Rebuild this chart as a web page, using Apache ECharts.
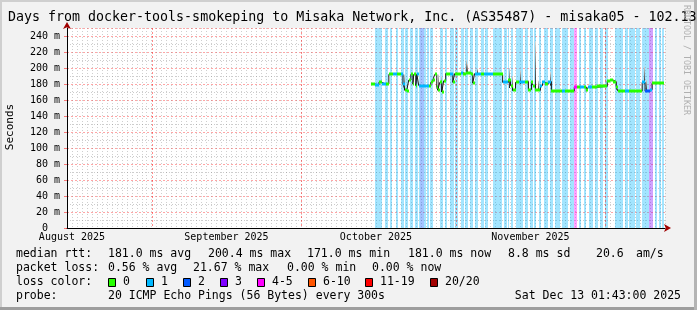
<!DOCTYPE html>
<html><head><meta charset="utf-8">
<script src="https://cdn.jsdelivr.net/npm/echarts@6/dist/echarts.min.js"></script>
<style>html,body{margin:0;padding:0;background:#f2f2f2}#c{width:697px;height:310px}</style>
</head><body><div id="c"></div>
<script>
// ---------------- data (times are 'MM-DD HH' in 2025, UTC) ----------------
const titleText = 'Days from docker-tools-smokeping to Misaka Network, Inc. (AS35487) - misaka05 - 102.13';
const rangeStart = '08-15 00';
const rangeEnd = '12-13 00';
const monthLabels = ['August 2025', 'September 2025', 'October 2025', 'November 2025'];
const monthLabelAt = ['08-16 00', '09-16 00', '10-16 00', '11-16 00'];
const monthStarts = ['09-01 00', '10-01 00', '11-01 00', '12-01 00'];

// median rtt (ms) per segment, segment runs until the next start
const medianTime = ['10-15 00','10-15 19','10-16 14','10-17 05','10-18 00','10-18 14','10-19 10','10-20 05','10-21 00','10-21 10',
  '10-21 19','10-22 05','10-22 14','10-23 00','10-23 10','10-23 14','10-24 00','10-24 05','10-24 14','10-26 14',
  '10-27 00','10-27 10','10-27 19','10-28 05','10-28 10','10-28 19','10-29 05','10-29 14','10-30 00','10-30 19',
  '10-31 10','10-31 19','11-02 00','11-02 10','11-03 00','11-04 00','11-04 10','11-04 19','11-06 00','11-06 14',
  '11-08 14','11-10 10','11-11 14','11-12 00','11-12 10','11-13 00','11-13 19','11-15 00','11-15 14','11-16 05',
  '11-16 14','11-17 00','11-18 00','11-18 10','11-19 00','11-19 14','11-20 05','11-22 10','11-23 00','11-24 19',
  '11-25 10','11-26 00','11-26 19','11-27 05','11-27 14','11-28 10','11-29 10','12-01 10','12-02 00','12-02 14',
  '12-03 05','12-03 14','12-05 00','12-05 19','12-08 10','12-09 00','12-10 00','12-10 10'];
const medianRtt = [180,179,182,180,180,192,192,193,192,180,
  173,171,185,192,180,192,178,192,178,178,
  182,185,192,176,172,182,170,184,193,193,
  182,193,194,193,194,193,181,193,193,192,
  192,182,185,178,172,182,182,183,173,182,
  178,172,178,182,180,183,171,171,171,176,
  176,176,176,172,176,176,177,184,185,183,
  176,171,171,171,182,171,173,181];
// loss bucket index (0:'0', 1:'1', 2:'2', 3:'3', 4:'4-5', ...)
const medianLoss = [0,1,0,1,0,0,1,0,1,1,
  0,0,0,0,0,0,0,1,1,0,
  0,0,0,0,0,0,0,0,0,1,
  0,0,1,0,0,0,0,1,0,1,
  0,1,0,0,0,0,1,0,0,0,
  0,0,1,1,0,1,0,1,0,4,
  0,1,0,0,1,0,0,0,0,0,
  0,0,1,0,1,2,1,0];
const dataEnd = '12-12 19';

// smoke (ping spread) samples
const smokeTime = ['10-21 14','10-28 10','10-29 00','11-03 00','11-03 05','11-05 05','11-11 19','11-12 05','11-14 00',
  '11-15 14','11-17 00','11-17 10','11-20 00','11-27 05','12-03 05','12-08 19','12-09 05'];
const smokeLow  = [172,171,170,193,193,193,175,172,180,173,175,172,178,171,173,180,171];
const smokeHigh = [192,192,190,210,205,199,200,190,197,185,233,184,195,177,184,202,185];

// packet loss periods (background stripes)
const stripeStart = ['10-15 19','10-16 19','10-17 19','10-18 19','10-20 00','10-21 00','10-21 19','10-22 19','10-23 19','10-24 14',
  '10-24 19','10-25 14','10-26 05','10-26 19','10-28 19','10-29 19','10-30 19','10-31 19','11-02 00','11-02 19',
  '11-03 19','11-04 19','11-06 00','11-06 19','11-08 10','11-09 14','11-10 19','11-11 10','11-12 00','11-13 00',
  '11-14 00','11-15 00','11-16 00','11-16 19','11-17 19','11-18 19','11-20 00','11-21 00','11-22 10','11-23 00',
  '11-24 00','11-24 14','11-24 19','11-25 19','11-26 19','11-27 19','11-29 00','11-30 00','12-01 00','12-03 00',
  '12-03 19','12-05 00','12-05 19','12-06 10','12-07 05','12-08 10','12-09 10','12-09 19','12-11 00','12-11 19','12-12 10'];
const stripeEnd = ['10-16 19','10-17 05','10-18 10','10-19 05','10-20 10','10-21 14','10-22 10','10-23 10','10-24 10','10-24 19',
  '10-25 14','10-26 00','10-26 14','10-27 10','10-29 10','10-30 05','10-31 14','11-01 10','11-02 14','11-03 10',
  '11-04 10','11-05 10','11-06 14','11-07 10','11-09 10','11-10 05','11-11 05','11-11 19','11-12 14','11-14 00',
  '11-14 14','11-15 14','11-16 14','11-17 05','11-18 05','11-19 14','11-20 14','11-22 00','11-23 00','11-23 14',
  '11-24 14','11-24 19','11-25 10','11-26 05','11-27 05','11-28 14','11-29 14','11-30 14','12-01 14','12-03 19',
  '12-04 14','12-05 14','12-06 10','12-07 00','12-08 00','12-09 10','12-09 19','12-10 14','12-11 10','12-12 05','12-12 19'];
const stripeLoss = [1,1,1,1,1,1,1,1,1,1,
  2,1,1,1,1,1,1,1,1,1,
  1,1,1,1,1,1,1,1,1,1,
  1,1,1,1,1,1,1,1,1,1,
  1,1,4,1,1,1,1,1,1,1,
  1,1,1,1,1,1,1,3,1,1,1];

const lossLabels = ['0','1','2','3','4-5','6-10','11-19','20/20'];
const lossColors = ['#26ff00','#00b8ff','#0059ff','#7e00ff','#ff00ff','#ff5500','#ff0000','#a10000'];

const rttStats = [181.0, 200.4, 171.0, 181.0];
const rttStatNames = ['avg','max','min','now'];
const rttSd = 8.8;
const rttAmS = 20.6;
const lossStats = [0.56, 21.67, 0.00, 0.00];
const lossStatNames = ['avg','max','min','now'];
const probeText = '20 ICMP Echo Pings (56 Bytes) every 300s';
const stampText = 'Sat Dec 13 01:43:00 2025';
const sideText = 'RRDTOOL / TOBI OETIKER';

// ---------------- build ----------------
function T(s){ const [md,h] = s.split(' '); const [m,d] = md.split('-').map(Number); return Date.UTC(2025, m-1, d, Number(h)); }
function rgba(hex,a){ const n = parseInt(hex.slice(1),16); return 'rgba(' + (n>>16) + ',' + ((n>>8)&255) + ',' + (n&255) + ',' + a + ')'; }
const DAY = 86400000;
const STEP = 4.8 * 3600 * 1000;
const MONO = "'DejaVu Sans Mono', monospace";
const X0 = T(rangeStart), X1 = T(rangeEnd);

const stripeData = stripeStart.map((s,i) => [T(s), T(stripeEnd[i]), stripeLoss[i]]);
const medT = medianTime.map(T);
const medEnd = T(dataEnd);
const medianData = medT.map((t,i) => [t, i+1 < medT.length ? medT[i+1] : medEnd, medianRtt[i], medianLoss[i]]);
const stepData = medT.map((t,i) => [t, medianRtt[i]]).concat([[medEnd, medianRtt[medianRtt.length-1]]]);
const smokeData = smokeTime.map((s,i) => [T(s), smokeLow[i], smokeHigh[i]]);
const monthLineData = monthStarts.map(s => [T(s)]);
const labelMap = {};
monthLabelAt.forEach((s,i) => { labelMap[T(s)] = monthLabels[i]; });

const chart = echarts.init(document.getElementById('c'), null, {renderer:'canvas', width:697, height:310});

const txt = (x, y, text, extra) => Object.assign({type:'text', x:x, y:y, z:100,
  style:{text:text, fill:'#000', font:'11.5px ' + MONO, verticalAlign:'middle', align:'left'}}, extra || {});

const graphics = [];
// frame
graphics.push({type:'rect', z:100, shape:{x:0,y:0,width:697,height:2}, style:{fill:'#cfcfcf'}});
graphics.push({type:'rect', z:100, shape:{x:0,y:0,width:2,height:310}, style:{fill:'#cfcfcf'}});
graphics.push({type:'rect', z:100, shape:{x:0,y:307,width:697,height:3}, style:{fill:'#9e9e9e'}});
graphics.push({type:'rect', z:100, shape:{x:694,y:0,width:3,height:310}, style:{fill:'#b4b4b4'}});
// title
graphics.push(txt(8, 18, titleText, {style:{text:titleText, fill:'#000', font:'13.3px ' + MONO, verticalAlign:'middle', align:'left'}}));
// y name
graphics.push({type:'text', x:10, y:127, rotation:Math.PI/2, z:100,
  style:{text:'Seconds', fill:'#000', font:'11px ' + MONO, align:'center', verticalAlign:'middle'}});
// side credit
graphics.push({type:'text', x:686, y:60, rotation:-Math.PI/2, z:100,
  style:{text:sideText, fill:'#b0b0b0', font:'8.3px ' + MONO, align:'center', verticalAlign:'middle'}});
// legend line 1
const l1x = [108, 208, 307, 408, 508, 596, 636];
graphics.push(txt(16, 254, 'median rtt:'));
rttStats.forEach((v,i) => graphics.push(txt(l1x[i], 254, v.toFixed(1) + ' ms ' + rttStatNames[i])));
graphics.push(txt(l1x[4], 254, rttSd.toFixed(1) + ' ms sd'));
graphics.push(txt(l1x[5], 254, rttAmS.toFixed(1)));
graphics.push(txt(l1x[6], 254, 'am/s'));
// legend line 2
const l2x = [108, 193, 287, 372];
graphics.push(txt(16, 268, 'packet loss:'));
lossStats.forEach((v,i) => graphics.push(txt(l2x[i], 268, v.toFixed(2) + ' % ' + lossStatNames[i])));
// legend line 3
const boxX = [108, 146, 183, 220, 257, 308, 365, 430];
graphics.push(txt(16, 282, 'loss color:'));
lossLabels.forEach((lab,i) => {
  graphics.push({type:'rect', z:100, shape:{x:boxX[i]+0.5, y:278.5, width:7, height:8}, style:{fill:lossColors[i], stroke:'#000', lineWidth:1}});
  graphics.push(txt(boxX[i] + 15, 282, lab));
});
// legend line 4
graphics.push(txt(16, 296, 'probe:'));
graphics.push(txt(108, 296, probeText));
graphics.push(txt(681, 296, stampText, {style:{text:stampText, fill:'#000', font:'11.5px ' + MONO, verticalAlign:'middle', align:'right'}}));

const option = {
  animation: false,
  backgroundColor: '#f2f2f2',
  grid: {left:67, top:28, width:598, height:200, show:true, backgroundColor:'#ffffff', borderWidth:0},
  xAxis: [{
    type:'value', min:X0, max:X1, interval:DAY, position:'bottom',
    axisLine:{show:true, onZero:false, lineStyle:{color:'#000', width:1}},
    axisTick:{show:false},
    splitLine:{show:true, lineStyle:{color:'rgba(128,128,128,0.38)', type:[1,2], width:1}},
    axisLabel:{show:true, margin:4, fontFamily:MONO, fontSize:10, color:'#000', showMinLabel:true, showMaxLabel:false,
      formatter: v => labelMap[v] || ''}
  }, {
    type:'value', min:X0, max:X1, position:'bottom',
    axisLine:{show:true, onZero:false, symbol:['none','arrow'], symbolSize:[6,7], symbolOffset:[0,6], lineStyle:{color:'#a00000', width:0}},
    axisTick:{show:false}, axisLabel:{show:false}, splitLine:{show:false}
  }],
  yAxis: [{
    type:'value', min:0, max:250, interval:20, position:'left',
    axisLine:{show:true, onZero:false, lineStyle:{color:'#000', width:1}},
    axisTick:{show:true, length:3, lineStyle:{color:'rgba(255,0,0,0.5)'}},
    splitLine:{show:true, lineStyle:{color:'rgba(255,0,0,0.35)', type:[2,2], width:1}},
    minorTick:{show:false, splitNumber:2},
    minorSplitLine:{show:true, lineStyle:{color:'rgba(128,128,128,0.4)', type:[1,2], width:1}},
    axisLabel:{margin:7, fontFamily:MONO, fontSize:10, color:'#000', showMaxLabel:false,
      formatter: v => v === 0 ? '0  ' : v + ' m'}
  }, {
    type:'value', min:0, max:250, position:'left',
    axisLine:{show:true, onZero:false, symbol:['none','arrow'], symbolSize:[6,7], symbolOffset:[0,6], lineStyle:{color:'#a00000', width:0}},
    axisTick:{show:false}, axisLabel:{show:false}, splitLine:{show:false}
  }],
  graphic: graphics,
  series: [
    { // loss background stripes
      type:'custom', z:1, clip:true, silent:true,
      encode:{x:[0,1], y:2},
      data: stripeData,
      renderItem: (params, api) => {
        const p0 = api.coord([api.value(0), 250]);
        const p1 = api.coord([api.value(1), 0]);
        const x0 = Math.round(p0[0]);
        const x1 = Math.max(Math.round(p1[0]), x0 + 1);
        return {type:'rect', shape:{x:x0, y:p0[1], width:x1-x0, height:p1[1]-p0[1]},
          style:{fill: rgba(lossColors[api.value(2)], 0.36)}};
      }
    },
    { // month boundary grid lines (pixel-snapped, dashed red)
      type:'custom', z:2, clip:true, silent:true,
      encode:{x:0},
      data: monthLineData,
      renderItem: (params, api) => {
        const top = api.coord([api.value(0), 250]);
        const bot = api.coord([api.value(0), 0]);
        const x = Math.round(top[0]) + 0.5;
        return {type:'line', shape:{x1:x, y1:top[1], x2:x, y2:bot[1]},
          style:{stroke:'rgba(255,0,0,0.45)', lineWidth:1, lineDash:[2,2]}};
      }
    },
    { // smoke
      type:'custom', z:3, clip:true, silent:true,
      encode:{x:0, y:[1,2]},
      data: smokeData,
      renderItem: (params, api) => {
        const top = api.coord([api.value(0), api.value(2)]);
        const bot = api.coord([api.value(0), api.value(1)]);
        const w = Math.max(1, Math.round(api.size([STEP, 0])[0]));
        return {type:'rect', shape:{x:Math.round(top[0]), y:top[1], width:w, height:bot[1]-top[1]},
          style:{fill: new echarts.graphic.LinearGradient(0,0,0,1,[{offset:0,color:'#d8d8d8'},{offset:0.5,color:'#7a7a7a'},{offset:1,color:'#1e1e1e'}])}};
      }
    },
    { // transitions of the median
      type:'line', z:4, step:'end', symbol:'none', silent:true,
      data: stepData,
      lineStyle:{color:'#1a1a1a', width:1}
    },
    { // median colored by loss
      type:'custom', z:5, clip:true, silent:true,
      encode:{x:[0,1], y:2},
      data: medianData,
      renderItem: (params, api) => {
        const a = api.coord([api.value(0), api.value(2)]);
        const b = api.coord([api.value(1), api.value(2)]);
        const xa = Math.round(a[0]), xb = Math.round(b[0]);
        return {type:'rect', shape:{x:xa, y:Math.round(a[1]) - 1.5, width:Math.max(1, xb - xa), height:3},
          style:{fill: lossColors[api.value(3)]}};
      }
    }
  ]
};
chart.setOption(option);
</script>
</body></html>
